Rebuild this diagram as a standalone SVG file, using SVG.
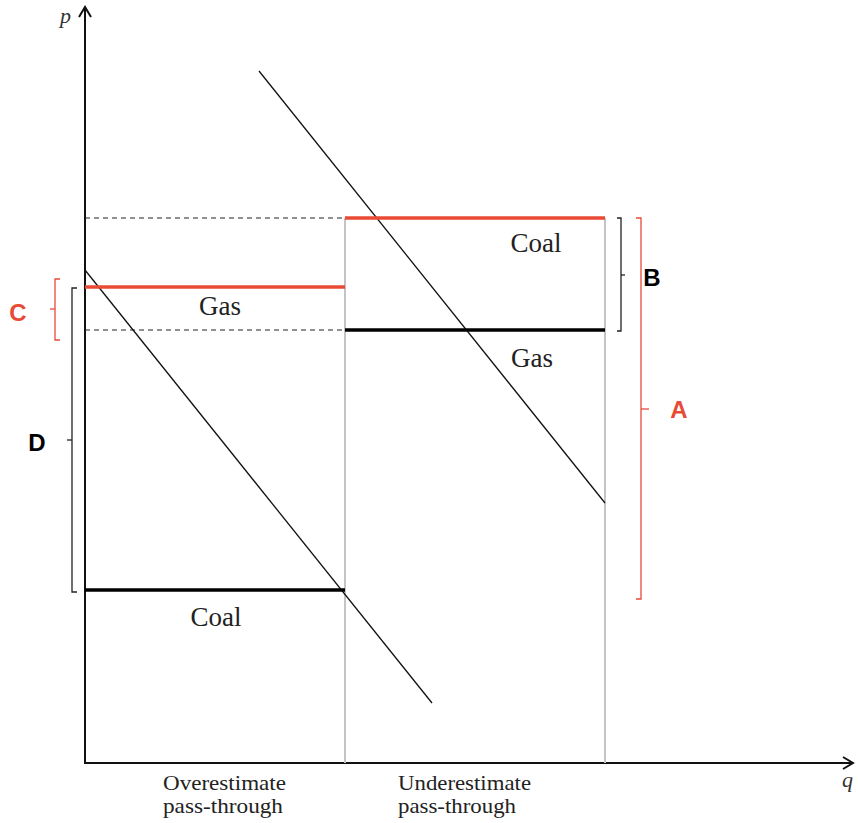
<svg xmlns="http://www.w3.org/2000/svg" width="858" height="823" viewBox="0 0 858 823">
<style>
.ax{stroke:#111;stroke-width:2;fill:none}
.grey{stroke:#c4c4c4;stroke-width:2;fill:none}
.red{stroke:#e84a36;stroke-width:3.5;fill:none}
.blk{stroke:#000;stroke-width:3.5;fill:none}
.dash{stroke:#222;stroke-width:1.2;stroke-dasharray:5,4;fill:none}
.curve{stroke:#111;stroke-width:1.3;fill:none}
.brk{stroke:#222;stroke-width:1.3;fill:none}
.brkr{stroke:#e84a36;stroke-width:1.3;fill:none}
.lbl{font-family:"Liberation Serif",serif;font-size:27px;fill:#222;text-anchor:middle}
.cap{font-family:"Liberation Serif",serif;font-size:21px;fill:#222}
.it{font-family:"Liberation Serif",serif;font-style:italic;font-size:22px;fill:#333}
.bl{font-family:"Liberation Sans",Arial,sans-serif;font-weight:bold;font-size:24px;fill:#000;text-anchor:middle}
.br{font-family:"Liberation Sans",Arial,sans-serif;font-weight:bold;font-size:24px;fill:#e84a36;text-anchor:middle}
</style>
<rect width="858" height="823" fill="#fff"/>
<g id="axes">
<line class="ax" x1="85" y1="764" x2="85" y2="8"/>
<polyline class="ax" points="79,17 85,7 91,17" stroke-width="2.5"/>
<line class="ax" x1="84" y1="763" x2="852" y2="763"/>
<polyline class="ax" points="843,757 853,763 843,769" stroke-width="2.5"/>
<text class="it" x="60" y="23">p</text>
<text class="it" x="842" y="787">q</text>
</g>
<g id="dividers">
<line class="grey" x1="345" y1="218" x2="345" y2="763"/>
<line class="grey" x1="605" y1="218" x2="605" y2="763"/>
</g>
<g id="connectors">
<line class="dash" x1="85" y1="218" x2="345" y2="218"/>
<line class="dash" x1="85" y1="330" x2="345" y2="330"/>
<line class="curve" x1="85" y1="270" x2="432" y2="703"/>
<line class="curve" x1="259" y1="71" x2="605" y2="503"/>
</g>
<g id="left-levels">
<line class="red" x1="85" y1="287" x2="345" y2="287"/>
<line class="blk" x1="85" y1="590" x2="345" y2="590"/>
<text class="lbl" x="220" y="315">Gas</text>
<text class="lbl" x="216" y="626">Coal</text>
</g>
<g id="right-levels">
<line class="red" x1="345" y1="218" x2="605" y2="218"/>
<line class="blk" x1="345" y1="330" x2="605" y2="330"/>
<text class="lbl" x="536" y="252">Coal</text>
<text class="lbl" x="532" y="367">Gas</text>
</g>
<g id="bracket-C">
<polyline class="brkr" points="60,279 55,279 55,340 60,340"/>
<line class="brkr" x1="55" y1="309" x2="50" y2="309"/>
<text class="br" x="18" y="321">C</text>
</g>
<g id="bracket-D">
<polyline class="brk" points="77,288 72,288 72,592 77,592"/>
<line class="brk" x1="72" y1="440" x2="67" y2="440"/>
<text class="bl" x="37" y="451">D</text>
</g>
<g id="bracket-B">
<polyline class="brk" points="617,218 621,218 621,331 617,331"/>
<line class="brk" x1="621" y1="275" x2="625" y2="275"/>
<text class="bl" x="652" y="286">B</text>
</g>
<g id="bracket-A">
<polyline class="brkr" points="636,218 641,218 641,599 636,599"/>
<line class="brkr" x1="641" y1="409" x2="649" y2="409"/>
<text class="br" x="679" y="418">A</text>
</g>
<g id="x-labels">
<text class="cap" x="163" y="790" textLength="123" lengthAdjust="spacingAndGlyphs">Overestimate</text>
<text class="cap" x="163" y="813" textLength="120" lengthAdjust="spacingAndGlyphs">pass-through</text>
<text class="cap" x="398" y="790" textLength="133" lengthAdjust="spacingAndGlyphs">Underestimate</text>
<text class="cap" x="398" y="813" textLength="118" lengthAdjust="spacingAndGlyphs">pass-through</text>
</g>
</svg>
